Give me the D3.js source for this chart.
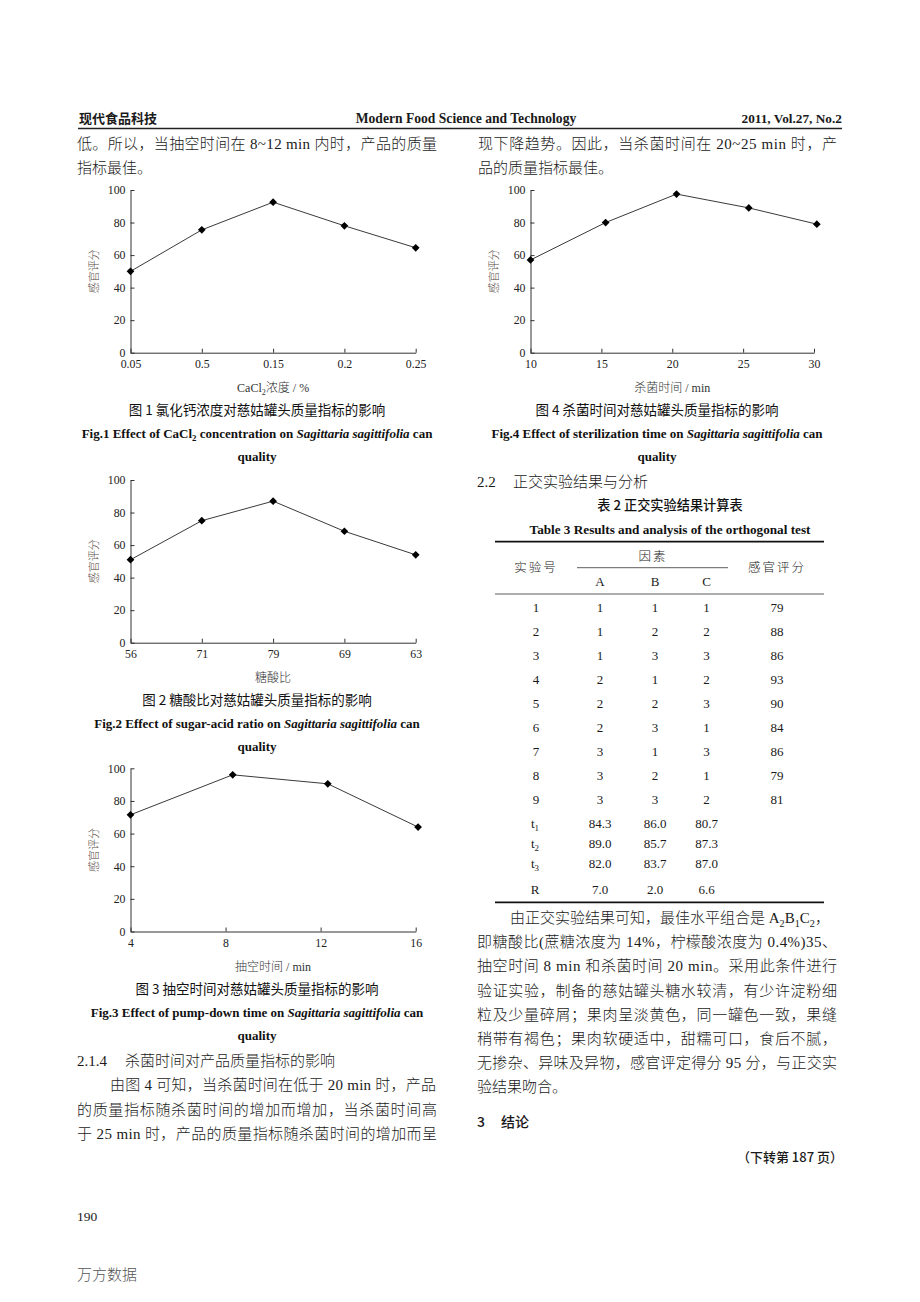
<!DOCTYPE html>
<html><head><meta charset="utf-8">
<script src="https://cdn.jsdelivr.net/npm/d3@7"></script>
<style>
html,body{margin:0;padding:0;background:#fff;}
svg{display:block}
</style></head><body>
<svg id="page" width="920" height="1302"></svg>
<script>
// ---------------- data ----------------
const yTicks = [0, 20, 40, 60, 80, 100];

const fig1Categories = ["0.05", "0.5", "0.15", "0.2", "0.25"];
const fig1Values = [50, 75.5, 92.5, 78, 64.5];

const fig2Categories = ["56", "71", "79", "69", "63"];
const fig2Values = [51, 75, 87, 68.5, 54];

const fig3Ticks = [4, 8, 12, 16];
const fig3X = [4, 8.3, 12.3, 16.1];
const fig3Values = [71.5, 96, 90.5, 64];

const fig4Ticks = [10, 15, 20, 25, 30];
const fig4X = [10, 15.3, 20.3, 25.4, 30.2];
const fig4Values = [57, 80, 97.5, 89, 79];

const tableRuns = ["1", "2", "3", "4", "5", "6", "7", "8", "9"];
const factorA = [1, 1, 1, 2, 2, 2, 3, 3, 3];
const factorB = [1, 2, 3, 1, 2, 3, 1, 2, 3];
const factorC = [1, 2, 3, 2, 3, 1, 3, 1, 2];
const sensoryScore = [79, 88, 86, 93, 90, 84, 86, 79, 81];
const levelNames = ["t", "t", "t", "R"];
const levelSubs = ["1", "2", "3", ""];
const levelA = ["84.3", "89.0", "82.0", "7.0"];
const levelB = ["86.0", "85.7", "83.7", "2.0"];
const levelC = ["80.7", "87.3", "87.0", "6.6"];

// ---------------- setup ----------------
const SERIF = "'Liberation Serif','Times New Roman','Noto Sans CJK SC',serif";
const CJK = "'Noto Sans CJK SC','Noto Sans CJK JP',sans-serif";
const BODY = "'Liberation Serif','Noto Sans CJK SC',serif";
const svg = d3.select("#page");
svg.append("rect").attr("width", 920).attr("height", 1302).attr("fill", "#fff");

function rich(x, y, segs, o) {
  o = o || {};
  const t = svg.append("text").attr("x", x).attr("y", y)
    .attr("font-family", o.family || BODY)
    .attr("font-size", o.size || 15)
    .attr("fill", o.fill || "#1a1a1a")
    .attr("text-anchor", o.anchor || "start");
  t.attr("font-weight", o.weight || 300);
  if (o.width) t.attr("textLength", o.width).attr("lengthAdjust", "spacing");
  if (o.ls) t.attr("letter-spacing", o.ls);
  let shift = 0;
  segs.forEach(s => {
    if (typeof s === "string") s = { t: s };
    const sp = t.append("tspan").text(s.t);
    const target = s.sub ? (o.size || 15) * 0.25 : 0;
    if (target !== shift) { sp.attr("dy", target - shift); shift = target; }
    if (s.sub) sp.attr("font-size", (o.size || 15) * 0.68);
    if (s.it) sp.attr("font-style", "italic");
    if (s.f) sp.attr("font-family", s.f);
    if (s.w) sp.attr("font-weight", s.w);
  });
  return t;
}

// ---------------- header ----------------
rich(79, 123, ["现代食品科技"], { family: CJK, size: 13, weight: 700 });
rich(466, 123, ["Modern Food Science and Technology"], { family: SERIF, size: 13.6, weight: 700, anchor: "middle" });
rich(842, 123, ["2011, Vol.27, No.2"], { family: SERIF, size: 13.3, weight: 700, anchor: "end" });
svg.append("line").attr("x1", 78).attr("x2", 842).attr("y1", 128.5).attr("y2", 128.5)
  .attr("stroke", "#222").attr("stroke-width", 1.3);

// ---------------- body text ----------------
rich(77, 149, ["低。所以，当抽空时间在 8~12 min 内时，产品的质量"], { width: 360 });
rich(77, 173, ["指标最佳。"]);
rich(478, 149, ["现下降趋势。因此，当杀菌时间在 20~25 min 时，产"], { width: 359 });
rich(478, 173, ["品的质量指标最佳。"]);

// ---------------- charts ----------------
function drawChart(cfg) {
  const g = svg.append("g");
  const y = d3.scaleLinear().domain([0, 100]).range([cfg.yBottom, cfg.yTop]);
  let x, xs;
  if (cfg.categories) {
    x = d3.scalePoint().domain(cfg.categories).range([cfg.xLeft, cfg.xRight]);
    xs = cfg.categories;
  } else {
    x = d3.scaleLinear().domain(cfg.domain).range([cfg.xLeft, cfg.xRight]);
    xs = cfg.xValues;
  }
  const xAxis = d3.axisBottom(x).tickSizeInner(-4).tickSizeOuter(0).tickPadding(7);
  if (!cfg.categories) xAxis.tickValues(cfg.ticks).tickFormat(d3.format("d"));
  const gx = g.append("g").attr("transform", `translate(0,${cfg.yBottom})`).call(xAxis);
  const yAxis = d3.axisLeft(y).tickValues(yTicks).tickSizeInner(-4).tickSizeOuter(0).tickPadding(5);
  const gy = g.append("g").attr("transform", `translate(${cfg.xLeft},0)`).call(yAxis);
  [gx, gy].forEach(a => {
    a.attr("font-family", SERIF).attr("font-size", 11.8);
    a.selectAll("path,line").attr("stroke", "#333").attr("stroke-width", 1);
    a.selectAll("text").attr("fill", "#222");
  });

  const pts = xs.map((d, i) => [x(d), y(cfg.values[i])]);
  g.append("path").attr("d", d3.line()(pts)).attr("fill", "none")
    .attr("stroke", "#3a3a3a").attr("stroke-width", 1);
  g.selectAll("path.mk").data(pts).join("path").attr("class", "mk")
    .attr("d", d3.symbol(d3.symbolSquare, 30)())
    .attr("transform", d => `translate(${d[0]},${d[1]}) rotate(45)`)
    .attr("fill", "#000");

  // y title
  const yc = (cfg.yTop + cfg.yBottom) / 2;
  svg.append("text").attr("transform", `translate(${cfg.xLeft - 33},${yc}) rotate(-90)`)
    .attr("text-anchor", "middle").attr("font-family", CJK).attr("font-size", 11)
    .attr("font-weight", 300)
    .attr("fill", "#5a4a44").text("感官评分");
  // x title
  const xc = (cfg.xLeft + cfg.xRight) / 2;
  rich(xc, cfg.yBottom + 39, cfg.xTitle, { size: 12, anchor: "middle", fill: "#333" });
  // captions
  rich(cfg.capX, cfg.yBottom + 62, cfg.capCn, { family: CJK, size: 13.5, anchor: "middle", fill: "#111", weight: 400 });
  rich(cfg.capX, cfg.yBottom + 85.5, cfg.capEn, { family: SERIF, size: 13, weight: 700, anchor: "middle", fill: "#111" });
  rich(cfg.capX, cfg.yBottom + 108, ["quality"], { family: SERIF, size: 13, weight: 700, anchor: "middle", fill: "#111" });
}

drawChart({
  categories: fig1Categories, values: fig1Values,
  xLeft: 130.5, xRight: 415.7, yTop: 190, yBottom: 352.7, capX: 257,
  xTitle: ["CaCl", { t: "2", sub: true }, "浓度 / %"],
  capCn: ["图 1  氯化钙浓度对慈姑罐头质量指标的影响"],
  capEn: ["Fig.1 Effect of CaCl", { t: "2", sub: true }, " concentration on ", { t: "Sagittaria sagittifolia", it: true }, " can"]
});
drawChart({
  categories: fig2Categories, values: fig2Values,
  xLeft: 130.5, xRight: 415.7, yTop: 480, yBottom: 642.7, capX: 257,
  xTitle: ["糖酸比"],
  capCn: ["图 2  糖酸比对慈姑罐头质量指标的影响"],
  capEn: ["Fig.2 Effect of sugar-acid ratio on ", { t: "Sagittaria sagittifolia", it: true }, " can"]
});
drawChart({
  domain: [4, 16], ticks: fig3Ticks, xValues: fig3X, values: fig3Values,
  xLeft: 130.5, xRight: 415.7, yTop: 768.3, yBottom: 931.5, capX: 257,
  xTitle: ["抽空时间 / min"],
  capCn: ["图 3  抽空时间对慈姑罐头质量指标的影响"],
  capEn: ["Fig.3 Effect of pump-down time on ", { t: "Sagittaria sagittifolia", it: true }, " can"]
});
drawChart({
  domain: [10, 30], ticks: fig4Ticks, xValues: fig4X, values: fig4Values,
  xLeft: 530.5, xRight: 814, yTop: 190, yBottom: 352.7, capX: 657,
  xTitle: ["杀菌时间 / min"],
  capCn: ["图 4  杀菌时间对慈姑罐头质量指标的影响"],
  capEn: ["Fig.4 Effect of sterilization time on ", { t: "Sagittaria sagittifolia", it: true }, " can"]
});

// ---------------- left bottom text ----------------
rich(77, 1066, ["2.1.4"], { family: SERIF });
rich(125, 1066, ["杀菌时间对产品质量指标的影响"], { family: CJK, size: 15 });
rich(110, 1090, ["由图 4 可知，当杀菌时间在低于 20 min 时，产品"], { width: 326 });
rich(77, 1115, ["的质量指标随杀菌时间的增加而增加，当杀菌时间高"], { width: 360 });
rich(77, 1139, ["于 25 min 时，产品的质量指标随杀菌时间的增加而呈"], { width: 360 });

// ---------------- right column: table ----------------
rich(477, 487, ["2.2"], { family: SERIF });
rich(513, 487, ["正交实验结果与分析"], { family: CJK, size: 15 });
rich(670, 510, ["表 2  正交实验结果计算表"], { family: CJK, size: 13.2, weight: 500, anchor: "middle", fill: "#111" });
rich(670, 534, ["Table 3 Results and analysis of the orthogonal test"], { family: SERIF, size: 13.2, weight: 700, anchor: "middle", fill: "#111" });

const tL = 495, tR = 824;
const colX = { run: 536, A: 600, B: 655, C: 706.5, S: 777 };
svg.append("line").attr("x1", tL).attr("x2", tR).attr("y1", 541.7).attr("y2", 541.7).attr("stroke", "#111").attr("stroke-width", 1.8);
svg.append("line").attr("x1", 577).attr("x2", 728).attr("y1", 567.7).attr("y2", 567.7).attr("stroke", "#333").attr("stroke-width", 0.8);
svg.append("line").attr("x1", tL).attr("x2", tR).attr("y1", 594).attr("y2", 594).attr("stroke", "#333").attr("stroke-width", 0.8);
svg.append("line").attr("x1", tL).attr("x2", tR).attr("y1", 902.3).attr("y2", 902.3).attr("stroke", "#111").attr("stroke-width", 1.8);

rich(colX.run, 572, ["实验号"], { family: CJK, size: 12.5, anchor: "middle", ls: 2, fill: "#222" });
rich(653, 561, ["因素"], { family: CJK, size: 12.5, anchor: "middle", ls: 2, fill: "#222" });
rich(colX.S, 572, ["感官评分"], { family: CJK, size: 12.5, anchor: "middle", ls: 2, fill: "#222" });
["A", "B", "C"].forEach(k => rich(colX[k], 586, [k], { family: SERIF, size: 13, anchor: "middle" }));

const rowY = d3.scaleLinear().domain([0, 8]).range([611.5, 804]);
const tg = svg.append("g").attr("font-family", SERIF).attr("font-size", 13).attr("fill", "#1a1a1a").attr("text-anchor", "middle");
const rows = tableRuns.map((r, i) => ({ r, a: factorA[i], b: factorB[i], c: factorC[i], s: sensoryScore[i], y: rowY(i) }));
rows.forEach(d => {
  [[colX.run, d.r], [colX.A, d.a], [colX.B, d.b], [colX.C, d.c], [colX.S, d.s]].forEach(([cx, v]) => {
    tg.append("text").attr("x", cx).attr("y", d.y).text(v);
  });
});
const levelY = [828, 848, 868, 894];
levelNames.forEach((n, i) => {
  const segs = levelSubs[i] ? [n, { t: levelSubs[i], sub: true }] : [n];
  rich(colX.run - 1, levelY[i], segs, { family: SERIF, size: 13, anchor: "middle" });
  [[colX.A, levelA[i]], [colX.B, levelB[i]], [colX.C, levelC[i]]].forEach(([cx, v]) => {
    tg.append("text").attr("x", cx).attr("y", levelY[i]).text(v);
  });
});

// ---------------- right paragraph ----------------
rich(510, 923, ["由正交实验结果可知，最佳水平组合是 A", { t: "2", sub: true }, "B", { t: "1", sub: true }, "C", { t: "2", sub: true }, "，"]);
rich(477, 947, ["即糖酸比(蔗糖浓度为 14%，柠檬酸浓度为 0.4%)35、"], { width: 360 });
rich(477, 971, ["抽空时间 8 min 和杀菌时间 20 min。采用此条件进行"], { width: 360 });
rich(477, 995.5, ["验证实验，制备的慈姑罐头糖水较清，有少许淀粉细"], { width: 360 });
rich(477, 1019.5, ["粒及少量碎屑；果肉呈淡黄色，同一罐色一致，果缝"], { width: 360 });
rich(477, 1043.5, ["稍带有褐色；果肉软硬适中，甜糯可口，食后不腻，"], { width: 360 });
rich(477, 1068, ["无掺杂、异味及异物，感官评定得分 95 分，与正交实"], { width: 360 });
rich(477, 1092, ["验结果吻合。"]);
rich(477, 1127, ["3"], { family: CJK, size: 14, weight: 500 });
rich(501, 1127, ["结论"], { family: CJK, size: 14, weight: 500 });
rich(843, 1162, ["（下转第 187 页）"], { family: CJK, size: 13, anchor: "end", weight: 500 });

// ---------------- footer ----------------
rich(77, 1221, ["190"], { family: SERIF, size: 13.5 });
rich(77, 1280, ["万方数据"], { family: CJK, size: 15, fill: "#555", weight: 300 });
</script>
</body></html>
